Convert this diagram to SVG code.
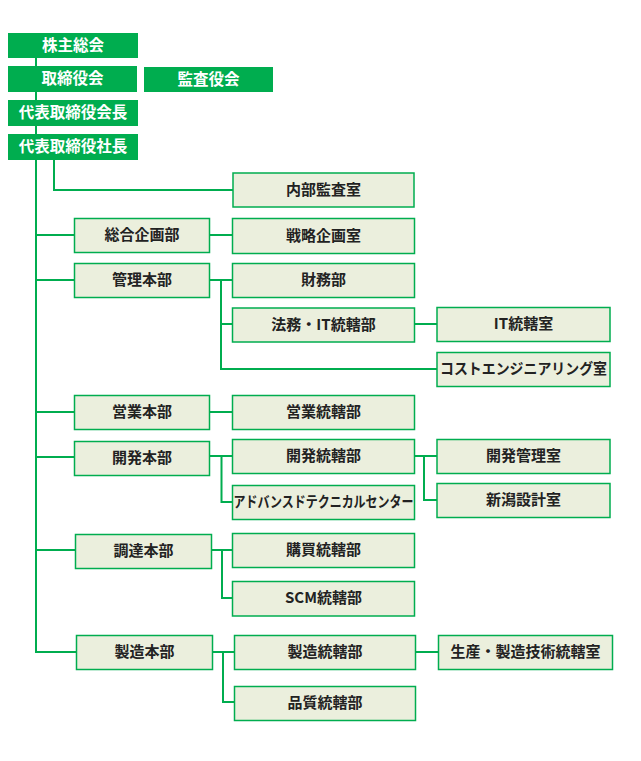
<svg xmlns="http://www.w3.org/2000/svg" width="641" height="761" viewBox="0 0 641 761">
<style>
.top rect{fill:#00ad4f}
.top text{fill:#fff;font-family:"Noto Sans CJK JP","Noto Sans",sans-serif;font-weight:bold;font-size:15.5px;text-anchor:middle;dominant-baseline:central}
.n rect{fill:#ebefdd;stroke:#00ad4f;stroke-width:1.5}
.n text{fill:#222;font-family:"Noto Sans CJK JP","Noto Sans",sans-serif;font-weight:bold;font-size:15px;text-anchor:middle;dominant-baseline:central}
#connectors path{fill:none;stroke:#00ad4f;stroke-width:2}
</style>
<rect width="641" height="761" fill="#fff"/>
<g id="connectors">
<path d="M36,57 V652 H76.5"/>
<path d="M54,160 V190 H233"/>
<path d="M36,235 H74.5 M209.5,235 H232.5"/>
<path d="M36,280 H74.5 M209.5,280 H232.5 M221,280 V369 H437 M221,324 H232.5 M414.5,324 H437"/>
<path d="M36,412 H74.5 M209.5,412 H232.5"/>
<path d="M36,457 H74.5 M209.5,456 H232.5 M221.5,456 V502 H232.5 M414.5,456 H437 M424,456 V500 H437"/>
<path d="M36,550 H75.5 M211.5,550 H232.5 M222,550 V598 H232.5"/>
<path d="M212.5,652 H234.5 M223,652 V702 H234.5 M415.5,652 H438.5"/>
</g>
<g id="n-kabunushi" class="top"><rect x="8" y="33" width="130" height="25"/><text x="73" y="43.5">株主総会</text></g>
<g id="n-torishimariyaku" class="top"><rect x="8" y="66" width="129" height="26"/><text x="72.5" y="77">取締役会</text></g>
<g id="n-kansayaku" class="top"><rect x="144" y="67" width="129" height="25"/><text x="208.5" y="77.5">監査役会</text></g>
<g id="n-kaicho" class="top"><rect x="8" y="100" width="130" height="26"/><text x="73" y="111">代表取締役会長</text></g>
<g id="n-shacho" class="top"><rect x="8" y="134" width="130" height="26"/><text x="73" y="145">代表取締役社長</text></g>
<g id="n-naibu" class="n"><rect x="233" y="173" width="181" height="34"/><text x="323.5" y="188">内部監査室</text></g>
<g id="n-sogo" class="n"><rect x="74.5" y="218.5" width="135" height="34"/><text x="142" y="233.5">総合企画部</text></g>
<g id="n-senryaku" class="n"><rect x="232.5" y="218.5" width="182" height="35"/><text x="323.5" y="234">戦略企画室</text></g>
<g id="n-kanri" class="n"><rect x="74.5" y="263.5" width="135" height="34"/><text x="142" y="278.5">管理本部</text></g>
<g id="n-zaimu" class="n"><rect x="232.5" y="263.5" width="182" height="34"/><text x="323.5" y="278.5">財務部</text></g>
<g id="n-homu" class="n"><rect x="232.5" y="308" width="182" height="34"/><text x="323.5" y="323">法務・IT統轄部</text></g>
<g id="n-it" class="n"><rect x="437" y="307.5" width="173" height="34"/><text x="523.5" y="322.5">IT統轄室</text></g>
<g id="n-cost" class="n"><rect x="437" y="352.5" width="173" height="34"/><text x="523.5" y="367.5" textLength="167" lengthAdjust="spacingAndGlyphs">コストエンジニアリング室</text></g>
<g id="n-eigyo" class="n"><rect x="74.5" y="395.5" width="135" height="34"/><text x="142" y="410.5">営業本部</text></g>
<g id="n-eigyotokatsu" class="n"><rect x="232.5" y="395.5" width="182" height="34"/><text x="323.5" y="410.5">営業統轄部</text></g>
<g id="n-kaihatsu" class="n"><rect x="74.5" y="441.5" width="135" height="34"/><text x="142" y="456.5">開発本部</text></g>
<g id="n-kaihatsutokatsu" class="n"><rect x="232.5" y="439.5" width="182" height="34"/><text x="323.5" y="454.5">開発統轄部</text></g>
<g id="n-advanced" class="n"><rect x="232.5" y="485.5" width="182" height="34"/><text x="323.5" y="500.5" textLength="180" lengthAdjust="spacingAndGlyphs">アドバンスドテクニカルセンター</text></g>
<g id="n-kaihatsukanri" class="n"><rect x="437" y="439.5" width="173" height="34"/><text x="523.5" y="454.5">開発管理室</text></g>
<g id="n-niigata" class="n"><rect x="437" y="483.5" width="173" height="34"/><text x="523.5" y="498.5">新潟設計室</text></g>
<g id="n-chotatsu" class="n"><rect x="75.5" y="534.5" width="136" height="34"/><text x="143.5" y="549.5">調達本部</text></g>
<g id="n-kobai" class="n"><rect x="232.5" y="533.5" width="182" height="34"/><text x="323.5" y="548.5">購買統轄部</text></g>
<g id="n-scm" class="n"><rect x="232.5" y="581.5" width="182" height="34.5"/><text x="323.5" y="596.5">SCM統轄部</text></g>
<g id="n-seizo" class="n"><rect x="76.5" y="635.5" width="136" height="34"/><text x="144.5" y="650.5">製造本部</text></g>
<g id="n-seizotokatsu" class="n"><rect x="234.5" y="635.5" width="181" height="34"/><text x="325" y="650.5">製造統轄部</text></g>
<g id="n-hinshitsu" class="n"><rect x="234.5" y="686.5" width="181" height="34"/><text x="325" y="701.5">品質統轄部</text></g>
<g id="n-seisan" class="n"><rect x="438.5" y="635.5" width="174" height="34"/><text x="525.5" y="650.5">生産・製造技術統轄室</text></g>
</svg>
